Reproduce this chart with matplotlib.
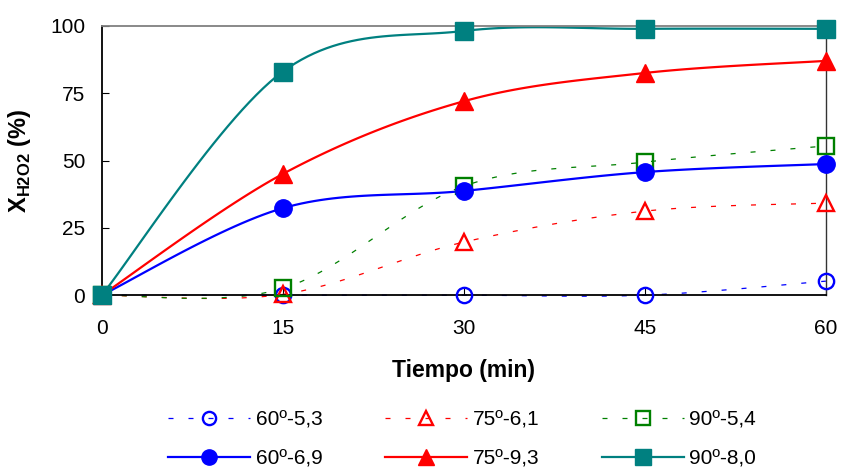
import numpy as np
import matplotlib
matplotlib.use('Agg')
import matplotlib.pyplot as plt
from matplotlib.lines import Line2D

plt.rcParams['font.family'] = ['Liberation Sans', 'DejaVu Sans']
plt.rcParams['mathtext.fontset'] = 'custom'
plt.rcParams['mathtext.rm'] = 'Liberation Sans'
plt.rcParams['mathtext.bf'] = 'Liberation Sans:bold'

tiempo = [0, 15, 30, 45, 60]
x_60_53 = [0, 0, 0, 0, 5.2]
x_75_61 = [0, 0.3, 19.7, 31.2, 34.2]
x_90_54 = [0, 2.5, 40.5, 49.4, 55.4]
x_60_69 = [0, 32.3, 38.7, 45.7, 48.7]
x_75_93 = [0, 45.0, 72.0, 82.5, 87.0]
x_90_80 = [0, 83.0, 98.1, 98.9, 98.9]

labels = ['60º-5,3', '75º-6,1', '90º-5,4', '60º-6,9', '75º-9,3', '90º-8,0']


# suavizado tipo Excel (bezier con tangentes catmull-rom)
def suave(x, y, n=30):
    P = np.column_stack([x, y]).astype(float)
    P = np.vstack([P[0], P, P[-1]])
    out = []
    for i in range(1, len(P) - 2):
        p0, p1, p2, p3 = P[i - 1], P[i], P[i + 1], P[i + 2]
        c1 = p1 + (p2 - p0) / 6
        c2 = p2 - (p3 - p1) / 6
        t = np.linspace(0, 1, n)[:, None]
        seg = ((1 - t)**3 * p1 + 3 * (1 - t)**2 * t * c1
               + 3 * (1 - t) * t**2 * c2 + t**3 * p2)
        out.append(seg if i == 1 else seg[1:])
    S = np.vstack(out)
    return S[:, 0], S[:, 1]


fig = plt.figure(figsize=(8.41, 4.70), dpi=100)
ax = fig.add_axes([0.121, 0.372, 0.861, 0.573])

series = [
    (x_60_53, '#0000FF', 'o', False),
    (x_75_61, '#FF0000', '^', False),
    (x_90_54, '#008000', 's', False),
    (x_60_69, '#0000FF', 'o', True),
    (x_75_93, '#FF0000', '^', True),
    (x_90_80, '#008080', 's', True),
]

handles = []
for (vals, col, mk, solid), lab in zip(series, labels):
    sx, sy = suave(tiempo, vals)
    if solid:
        ls = dict(linestyle='-', linewidth=1.6)
        mkw = dict(markerfacecolor=col, markeredgecolor=col, markeredgewidth=1)
        ms = 13.5 if mk == '^' else 12.5
    else:
        ls = dict(linestyle=(0, (4, 12)), linewidth=0.9)
        mkw = dict(markerfacecolor='none', markeredgecolor=col, markeredgewidth=1.7)
        ms = 12 if mk == '^' else 11
    ax.plot(sx, sy, color=col, clip_on=False, zorder=2, **ls)
    ax.plot(tiempo, vals, linestyle='none', marker=mk, markersize=ms,
            clip_on=False, zorder=3, **mkw)
    lms = 9.5 if not solid else 11
    handles.append(Line2D([], [], color=col, marker=mk, markersize=lms, **ls, **mkw))

ax.set_xlim(0, 60)
ax.set_ylim(0, 100)
ax.set_xticks(tiempo)
ax.set_yticks([0, 25, 50, 75, 100])
ax.tick_params(axis='x', direction='in', length=5, labelsize=15, pad=17)
ax.tick_params(axis='y', direction='in', length=5, labelsize=15, pad=12)
ax.spines['left'].set_linewidth(1.3)
ax.spines['bottom'].set_linewidth(1.3)
ax.spines['top'].set_color('#808080')
ax.spines['top'].set_linewidth(1.3)
ax.spines['right'].set_color('#333333')
ax.spines['right'].set_linewidth(1.0)

ax.set_xlabel('Tiempo (min)', fontsize=16.5, fontweight='bold', labelpad=15)
ax.set_ylabel(r'X$_{\mathbf{H2O2}}$ (%)', fontsize=17, fontweight='bold', labelpad=12)

orden = [0, 3, 1, 4, 2, 5]
fig.legend([handles[i] for i in orden], [labels[i] for i in orden],
           loc='upper left', bbox_to_anchor=(0.2, 0.126), ncol=3,
           frameon=False, fontsize=15, handlelength=3.95, handletextpad=0.25,
           columnspacing=3.0, labelspacing=0.95, borderaxespad=0, borderpad=0)

fig.savefig('out.png', dpi=100)
